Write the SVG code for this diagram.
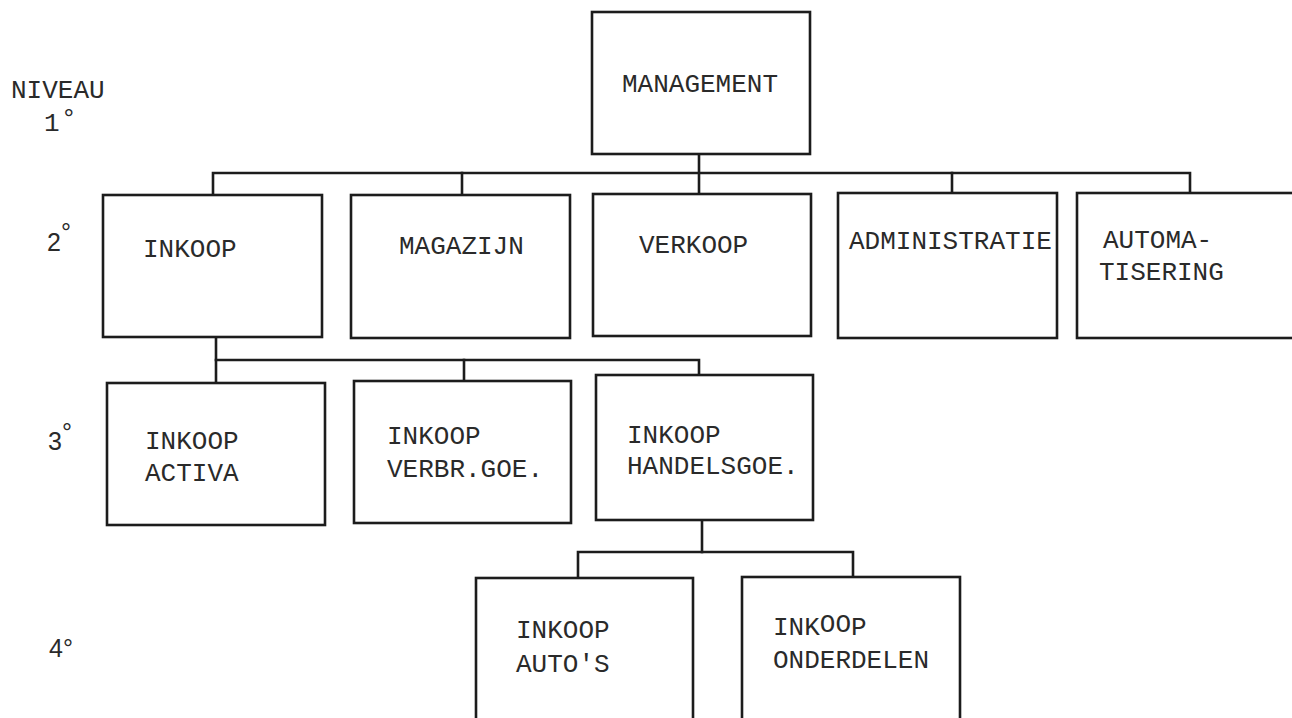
<svg xmlns="http://www.w3.org/2000/svg" width="1292" height="718" viewBox="0 0 1292 718">
  <style>
    .box { fill: #ffffff; stroke: #1c1c1c; stroke-width: 2.6; }
    .wire { fill: none; stroke: #1c1c1c; stroke-width: 2.6; stroke-linecap: square; }
    .lbl { font-family: "Liberation Mono", "DejaVu Sans Mono", monospace; font-size: 26px; fill: #2a2a2a; }
    .lvl { font-family: "Liberation Sans", Arial, sans-serif; font-size: 25px; fill: #2a2a2a; }
  </style>
  <rect width="1292" height="718" fill="#ffffff"/>

  <!-- level legend -->
  <g id="legend">
    <text class="lbl" x="11" y="98">NIVEAU</text>
    <text class="lbl" x="44" y="131">1<tspan dx="1.5" dy="-5">°</tspan></text>
    <text class="lvl" x="47" y="251">2<tspan dy="-10">°</tspan></text>
    <text class="lvl" x="48" y="450">3<tspan dy="-9">°</tspan></text>
    <text class="lvl" x="49" y="657">4°</text>
  </g>

  <!-- connectors -->
  <g id="connectors">
    <path class="wire" d="M699 154 V194"/>
    <path class="wire" d="M213 195 V173 H1190 V193"/>
    <path class="wire" d="M462 173 V195"/>
    <path class="wire" d="M952 173 V193"/>
    <path class="wire" d="M216 337 V383"/>
    <path class="wire" d="M216 360 H699 V375"/>
    <path class="wire" d="M464 360 V381"/>
    <path class="wire" d="M702 520 V552"/>
    <path class="wire" d="M578 578 V552 H853 V577"/>
  </g>

  <!-- level 1 -->
  <g id="management">
    <rect class="box" x="592" y="12" width="218" height="142"/>
    <text class="lbl" x="622" y="92">MANAGEMENT</text>
  </g>

  <!-- level 2 -->
  <g id="inkoop">
    <rect class="box" x="103" y="195" width="219" height="142"/>
    <text class="lbl" x="143" y="257">INKOOP</text>
  </g>
  <g id="magazijn">
    <rect class="box" x="351" y="195" width="219" height="143"/>
    <text class="lbl" x="399" y="254">MAGAZIJN</text>
  </g>
  <g id="verkoop">
    <rect class="box" x="593" y="194" width="218" height="142"/>
    <text class="lbl" x="639" y="253">VERKOOP</text>
  </g>
  <g id="administratie">
    <rect class="box" x="838" y="193" width="219" height="145"/>
    <text class="lbl" x="849" y="249">ADMINISTRATIE</text>
  </g>
  <g id="automatisering">
    <rect class="box" x="1077" y="193" width="230" height="145"/>
    <text class="lbl" x="1103" y="248">AUTOMA-</text>
    <text class="lbl" x="1099" y="280">TISERING</text>
  </g>

  <!-- level 3 -->
  <g id="inkoop-activa">
    <rect class="box" x="107" y="383" width="218" height="142"/>
    <text class="lbl" x="145" y="449">INKOOP</text>
    <text class="lbl" x="145" y="481">ACTIVA</text>
  </g>
  <g id="inkoop-verbruiksgoederen">
    <rect class="box" x="354" y="381" width="217" height="142"/>
    <text class="lbl" x="387" y="444">INKOOP</text>
    <text class="lbl" x="387" y="477">VERBR.GOE.</text>
  </g>
  <g id="inkoop-handelsgoederen">
    <rect class="box" x="596" y="375" width="217" height="145"/>
    <text class="lbl" x="627" y="443">INKOOP</text>
    <text class="lbl" x="627" y="474">HANDELSGOE.</text>
  </g>

  <!-- level 4 -->
  <g id="inkoop-autos">
    <rect class="box" x="476" y="578" width="217" height="160"/>
    <text class="lbl" x="516" y="638">INKOOP</text>
    <text class="lbl" x="516" y="672">AUTO'S</text>
  </g>
  <g id="inkoop-onderdelen">
    <rect class="box" x="742" y="577" width="218" height="160"/>
    <text class="lbl" x="773" y="635">INK<tspan dy="-3">OO</tspan><tspan dy="3">P</tspan></text>
    <text class="lbl" x="773" y="668">ONDERDELEN</text>
  </g>
</svg>
